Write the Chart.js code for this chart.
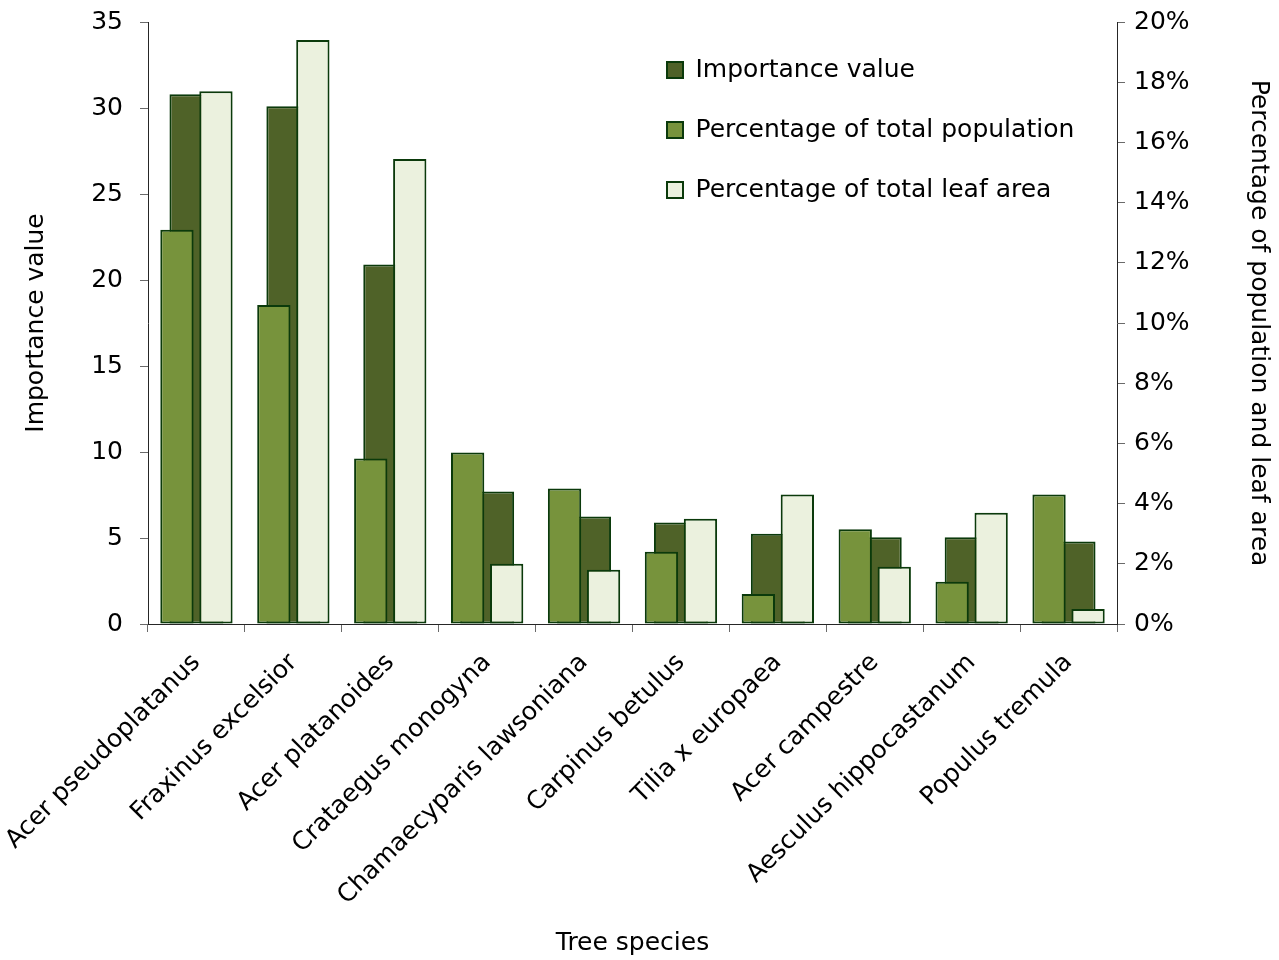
<!DOCTYPE html>
<html>
<head>
<meta charset="utf-8">
<title>Tree species importance</title>
<script src="https://cdn.jsdelivr.net/npm/chart.js@4/dist/chart.umd.min.js"></script>
<style>
  html, body { margin: 0; padding: 0; background: #ffffff; }
  #wrap { width: 1279px; height: 960px; }
</style>
</head>
<body>
<div id="wrap"><canvas id="chart" width="1279" height="960"></canvas></div>
<script>
// Tree species surveyed
const species = [
  'Acer pseudoplatanus',
  'Fraxinus excelsior',
  'Acer platanoides',
  'Crataegus monogyna',
  'Chamaecyparis lawsoniana',
  'Carpinus betulus',
  'Tilia x europaea',
  'Acer campestre',
  'Aesculus hippocastanum',
  'Populus tremula'
];

// Importance value (left axis)
const importanceValue = [30.8, 30.1, 20.9, 7.7, 6.25, 5.9, 5.25, 5.05, 5.05, 4.8];

// Share of total population, % (right axis)
const populationPct = [13.1, 10.6, 5.5, 5.7, 4.5, 2.4, 1.0, 3.15, 1.4, 4.3];

// Share of total leaf area, % (right axis)
const leafAreaPct = [17.7, 19.4, 15.45, 2.0, 1.8, 3.5, 4.3, 1.9, 3.7, 0.5];

const seriesNames = ['Importance value', 'Percentage of total population', 'Percentage of total leaf area'];

const FONT = "'DejaVu Sans', Verdana, sans-serif";
const FONT_SIZE = 25;
const EDGE = '#0b3a0b';
const AXIS = '#262626';
const TICK = '#6a6a6a';

// Legend sits inside the plot, top right
const LEGEND_PAD = 35;
const legendPlacement = {
  id: 'legendPlacement',
  afterLayout(chart) {
    const lg = chart.legend;
    if (!lg) return;
    const w = lg.width, h = lg.height;
    lg.left = 667 - LEGEND_PAD;
    lg.top = 57.5 - LEGEND_PAD;
    lg.right = lg.left + w;
    lg.bottom = lg.top + h;
  }
};

// fixed axis band sizes so the plot area keeps its frame
function fixVertical(width) {
  return s => { s.width = width; s.paddingTop = 0; s.paddingBottom = 0; };
}

const ctx = document.getElementById('chart').getContext('2d');
new Chart(ctx, {
  type: 'bar',
  data: {
    labels: species,
    datasets: [
      {
        // wide bar behind the pair, centred on the category
        label: seriesNames[0],
        data: importanceValue,
        yAxisID: 'y',
        backgroundColor: '#4f6228',
        borderColor: EDGE,
        borderWidth: 2,
        borderSkipped: false,
        grouped: false,
        categoryPercentage: 0.557,
        barPercentage: 1.0,
        order: 2
      },
      {
        label: seriesNames[1],
        data: populationPct,
        yAxisID: 'y2',
        backgroundColor: '#77933c',
        borderColor: EDGE,
        borderWidth: 2,
        borderSkipped: false,
        categoryPercentage: 0.805,
        barPercentage: 0.854,
        order: 1
      },
      {
        label: seriesNames[2],
        data: leafAreaPct,
        yAxisID: 'y2',
        backgroundColor: '#ebf1de',
        borderColor: EDGE,
        borderWidth: 2,
        borderSkipped: false,
        categoryPercentage: 0.805,
        barPercentage: 0.854,
        order: 1
      }
    ]
  },
  options: {
    responsive: false,
    animation: false,
    devicePixelRatio: 1,
    layout: { padding: { top: 22, left: 0, right: 0, bottom: 0 } },
    plugins: {
      tooltip: { enabled: false },
      legend: {
        position: 'chartArea',
        align: 'start',
        labels: {
          font: { family: FONT, size: FONT_SIZE },
          color: '#000000',
          boxWidth: 16,
          boxHeight: 16,
          padding: LEGEND_PAD,
          sort: (a, b) => a.datasetIndex - b.datasetIndex
        }
      }
    },
    scales: {
      x: {
        type: 'category',
        position: 'bottom',
        offset: true,
        grid: {
          offset: true,
          drawOnChartArea: false,
          drawTicks: true,
          tickLength: 8,
          color: TICK
        },
        border: { display: true, color: AXIS, width: 1 },
        ticks: {
          autoSkip: false,
          minRotation: 45,
          maxRotation: 45,
          padding: 16,
          color: '#000000',
          font: { family: FONT, size: FONT_SIZE }
        },
        title: {
          display: true,
          text: 'Tree species',
          color: '#000000',
          font: { family: FONT, size: FONT_SIZE },
          padding: { top: 0, bottom: 2 }
        },
        afterFit(s) { s.height = 336; s.paddingLeft = 0; s.paddingRight = 0; }
      },
      y: {
        position: 'left',
        min: 0,
        max: 35,
        ticks: {
          stepSize: 5,
          padding: 17,
          color: '#000000',
          font: { family: FONT, size: FONT_SIZE }
        },
        grid: {
          drawOnChartArea: false,
          drawTicks: true,
          tickLength: 8,
          color: TICK
        },
        border: { display: true, color: AXIS, width: 1 },
        title: {
          display: true,
          text: 'Importance value',
          color: '#000000',
          font: { family: FONT, size: FONT_SIZE },
          padding: { top: 21, bottom: 0 }
        },
        afterFit: fixVertical(148)
      },
      y2: {
        position: 'right',
        min: 0,
        max: 20,
        ticks: {
          stepSize: 2,
          padding: 9,
          color: '#000000',
          font: { family: FONT, size: FONT_SIZE },
          callback: v => v + '%'
        },
        grid: {
          drawOnChartArea: false,
          drawTicks: true,
          tickLength: 8,
          color: TICK
        },
        border: { display: true, color: AXIS, width: 1 },
        title: {
          display: true,
          text: 'Percentage of population and leaf area',
          color: '#000000',
          font: { family: FONT, size: FONT_SIZE },
          padding: { top: 6, bottom: 0 }
        },
        afterFit: fixVertical(162)
      }
    }
  },
  plugins: [legendPlacement]
});
</script>
</body>
</html>
